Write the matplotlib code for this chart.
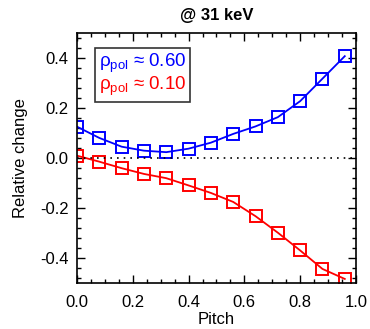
import matplotlib
matplotlib.use("Agg")
import matplotlib.pyplot as plt
from matplotlib.lines import Line2D
from matplotlib.ticker import MultipleLocator

plt.rcParams['font.family'] = ['Liberation Sans', 'DejaVu Sans']
plt.rcParams['mathtext.fontset'] = 'custom'
plt.rcParams['mathtext.rm'] = 'Liberation Sans'
plt.rcParams['mathtext.it'] = 'Liberation Sans:italic'

pitch = [0.0, 0.08, 0.16, 0.24, 0.32, 0.40, 0.48, 0.56, 0.64, 0.72, 0.80, 0.88, 0.96]
change_060 = [0.125, 0.080, 0.045, 0.029, 0.023, 0.037, 0.061, 0.096, 0.126, 0.163, 0.227, 0.317, 0.407]
change_010 = [0.009, -0.015, -0.041, -0.064, -0.081, -0.110, -0.140, -0.176, -0.233, -0.299, -0.370, -0.444, -0.484]
labels = [r'ρ$_{\mathrm{pol}}$ ≈ 0.60', r'ρ$_{\mathrm{pol}}$ ≈ 0.10']
colors = ['#0000ff', '#ff0000']
title = '@ 31 keV'

fig = plt.figure(figsize=(3.70, 3.29), dpi=100)
ax = fig.add_axes([0.208, 0.14, 0.754, 0.76])

for y, c in zip([change_060, change_010], colors):
    ax.plot(pitch, y, color=c, lw=1.3, marker='s', ms=9, mfc='none',
            mec=c, mew=1.4, clip_on=True)

ax.axhline(0, color='black', lw=1.2, ls=(0, (1, 3)))

ax.set_xlim(0, 1.0)
ax.set_ylim(-0.5, 0.5)
ax.xaxis.set_major_locator(MultipleLocator(0.2))
ax.xaxis.set_minor_locator(MultipleLocator(0.05))
ax.yaxis.set_major_locator(MultipleLocator(0.2))
ax.yaxis.set_minor_locator(MultipleLocator(0.04))
ax.set_xticks([0.0, 0.2, 0.4, 0.6, 0.8, 1.0])
ax.set_xticklabels(['0.0', '0.2', '0.4', '0.6', '0.8', '1.0'])
ax.set_yticks([-0.4, -0.2, 0.0, 0.2, 0.4])
ax.set_yticklabels(['-0.4', '-0.2', '0.0', '0.2', '0.4'])
ax.tick_params(which='both', direction='in', top=True, right=True, labelsize=12, width=1.0)
ax.tick_params(which='major', length=6)
ax.tick_params(axis='x', which='major', pad=9)
ax.tick_params(axis='y', which='major', pad=6)
ax.tick_params(which='minor', length=3)
for s in ax.spines.values():
    s.set_linewidth(1.2)

ax.set_xlabel('Pitch', fontsize=12, labelpad=1)
ax.set_ylabel('Relative change', fontsize=12, labelpad=9)
ax.set_title(title, fontsize=12, fontweight='bold', pad=9)

handles = [Line2D([], [], color='none') for _ in labels]
leg = ax.legend(handles, labels, loc='upper left', bbox_to_anchor=(0.066, 0.94),
                handlelength=0, handletextpad=0, labelcolor=colors, fontsize=13.5,
                frameon=True, fancybox=False, edgecolor='black', borderpad=0.2,
                labelspacing=0.0, borderaxespad=0)
leg.get_frame().set_linewidth(1.2)

fig.savefig('out.png', dpi=100)
